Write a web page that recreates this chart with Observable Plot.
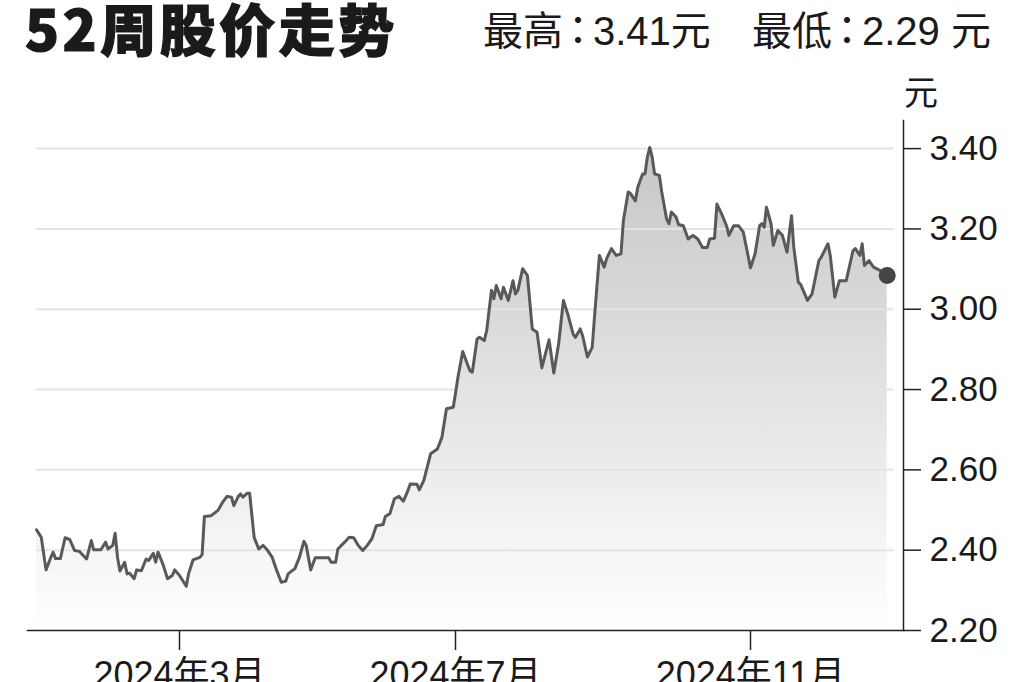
<!DOCTYPE html>
<html><head><meta charset="utf-8">
<script src="https://cdn.jsdelivr.net/npm/d3@7"></script>
<script src="https://cdn.jsdelivr.net/npm/@observablehq/plot@0.6"></script>
<style>
html,body{margin:0;padding:0;background:#fff;overflow:hidden;width:1024px;height:682px}
#wrap{position:relative;width:1024px;height:682px}
.t{position:absolute;white-space:nowrap;color:#1a1a1a;line-height:1;z-index:2}
#title{left:25px;top:-14px;font:900 56px "Noto Sans CJK SC",sans-serif;letter-spacing:3.5px;-webkit-text-stroke:1.2px #1a1a1a;color:#1a1a1a}
#hi{left:483px;top:-1px;font:400 40px "Liberation Sans","Noto Sans CJK SC",sans-serif}
#lo{left:752px;top:-1px;font:400 40px "Liberation Sans","Noto Sans CJK SC",sans-serif}
.colon{font-family:"Noto Sans CJK TC",sans-serif;margin:0 -5px}
#unit{left:904px;top:66px;font:400 34px "Noto Sans CJK SC",sans-serif}
#chart{position:absolute;left:0;top:0}
</style></head>
<body><div id="wrap">
<div class="t" id="title"></div>
<div class="t" id="hi"></div>
<div class="t" id="lo"></div>
<div class="t" id="unit"></div>
<div id="chart"></div>
</div>
<script>
// texts
const titleText = "52周股价走势";
const highParts = ["最高", "：", "3.41元"];
const lowParts = ["最低", "：", "2.29 元"];
const unitText = "元";

// day offsets from 2024-01-01 and closing prices (元)
const days = [0,2,4,6,7,8,10,12,14,16,18,21,23,24,27,29,30,32,33,34,35,37,38,39,41,42,44,46,47,49,50,51,53,55,57,58,
60,63,64,66,69,70,71,74,77,79,81,83,84,86,87,88,90,91,93,95,97,99,101,103,105,107,108,111,113,115,116,118,120,126,127,129,130,133,135,137,139,141,143,145,147,150,151,153,155,157,159,161,162,165,166,168,171,174,176,178,181,
182,183,185,188,189,191,192,194,195,197,198,199,201,202,204,206,207,208,210,212,214,216,218,221,223,225,227,229,231,232,234,235,237,239,240,242,244,245,247,249,251,252,254,255,257,258,260,261,262,263,264,265,267,268,270,271,272,274,275,277,279,281,283,285,287,288,290,291,293,295,296,298,300,302,
305,307,309,310,311,312,314,315,317,319,321,323,324,326,327,330,332,335,336,339,340,342,344,347,348,350,351,353,354,355,357,359,362,365];
const prices = [2.451,2.432,2.351,2.382,2.395,2.379,2.379,2.431,2.426,2.399,2.397,2.378,2.424,2.401,2.401,2.420,2.403,2.412,2.442,2.382,2.348,2.370,2.341,2.343,2.329,2.351,2.349,2.378,2.374,2.392,2.370,2.395,2.366,2.329,2.337,2.351,
2.337,2.310,2.341,2.376,2.382,2.389,2.484,2.486,2.499,2.519,2.534,2.532,2.511,2.534,2.540,2.532,2.542,2.542,2.432,2.403,2.412,2.399,2.382,2.349,2.320,2.323,2.341,2.354,2.382,2.422,2.412,2.351,2.381,2.381,2.370,2.370,2.403,2.420,2.432,2.431,2.412,2.399,2.412,2.428,2.461,2.464,2.484,2.491,2.528,2.534,2.522,2.549,2.565,2.564,2.550,2.574,2.640,2.652,2.681,2.752,2.756,
2.790,2.830,2.895,2.847,2.843,2.926,2.930,2.922,2.947,3.047,3.026,3.059,3.026,3.055,3.022,3.071,3.038,3.047,3.101,3.084,2.951,2.943,2.854,2.924,2.841,2.914,3.022,2.984,2.939,2.930,2.951,2.934,2.881,2.905,2.984,3.134,3.105,3.126,3.151,3.134,3.138,3.221,3.292,3.288,3.270,3.304,3.337,3.337,3.379,3.403,3.379,3.337,3.333,3.292,3.225,3.213,3.242,3.229,3.211,3.208,3.175,3.184,3.175,3.154,3.154,3.175,3.177,3.262,3.237,3.208,3.184,3.208,3.208,3.192,
3.103,3.138,3.208,3.213,3.204,3.254,3.213,3.159,3.196,3.184,3.142,3.233,3.154,3.067,3.062,3.022,3.038,3.121,3.129,3.163,3.134,3.030,3.071,3.071,3.096,3.146,3.151,3.134,3.163,3.109,3.121,3.105,3.096,3.084];

const yTicks = [2.2,2.4,2.6,2.8,3.0,3.2,3.4];
const gridValues = [2.4,2.6,2.8,3.0,3.2,3.4];
const xTickDates = ["2024-03-01","2024-07-01","2024-11-01"];

document.getElementById("title").textContent = titleText;
function fillParts(id, parts){
  const el = document.getElementById(id);
  parts.forEach((p,i)=>{
    const s = document.createElement("span");
    if (i===1) s.className = "colon";
    s.textContent = p;
    el.appendChild(s);
  });
}
fillParts("hi", highParts);
fillParts("lo", lowParts);
document.getElementById("unit").textContent = unitText;

const start = new Date(Date.UTC(2024,0,1));
const data = days.map((d,i)=>({date:d3.utcDay.offset(start,d), price:prices[i]}));
const last = data[data.length-1];
const xTicks = xTickDates.map(s=>new Date(s+"T00:00:00Z"));

const defs = () => {
  const ns = "http://www.w3.org/2000/svg";
  const g = document.createElementNS(ns,"defs");
  g.innerHTML = '<linearGradient id="pg" x1="0" y1="0" x2="0" y2="1"><stop offset="0" stop-color="#c6c6c6"/><stop offset="1" stop-color="#ffffff"/></linearGradient>';
  return g;
};

const chart = Plot.plot({
  width:1024, height:682,
  marginTop:120, marginBottom:52, marginLeft:27, marginRight:121,
  style:{fontFamily:'"Liberation Sans","Noto Sans CJK SC",sans-serif', fontSize:"35px", color:"#1a1a1a", background:"transparent", overflow:"visible"},
  x:{type:"utc", domain:[new Date("2024-01-01T00:00:00Z"), xTicks[0], xTicks[1], xTicks[2], new Date("2025-01-01T00:00:00Z")], range:[36,179,455,750,889]},
  y:{domain:[2.2,3.47]},
  marks:[
    defs,
    Plot.areaY(data,{x:"date", y1:2.2, y2:"price", fill:"url(#pg)"}),
    Plot.ruleY(gridValues,{x1:new Date("2024-01-01T00:00:00Z"), x2:new Date("2025-01-03T00:00:00Z"), stroke:"#e4e4e4", strokeWidth:2}),
    Plot.lineY(data,{x:"date", y:"price", stroke:"#595959", strokeWidth:3, strokeLinejoin:"round"}),
    Plot.dot([last],{x:"date", y:"price", r:8.5, fill:"#454545"}),
    Plot.frame({anchor:"right", stroke:"#222", strokeWidth:1.5}),
    Plot.frame({anchor:"bottom", stroke:"#222", strokeWidth:1.5}),
    Plot.axisY(yTicks,{anchor:"right", tickSize:17, tickPadding:9, tickFormat:d=>d.toFixed(2), fontSize:35, label:null, stroke:"#222", strokeWidth:1.5}),
    Plot.axisX(xTicks,{anchor:"bottom", tickSize:20, tickPadding:11, tickFormat:d=>`${d.getUTCFullYear()}年${d.getUTCMonth()+1}月`, fontSize:36, label:null, stroke:"#222", strokeWidth:1.5})
  ]
});
document.getElementById("chart").appendChild(chart);
</script>
</body></html>
